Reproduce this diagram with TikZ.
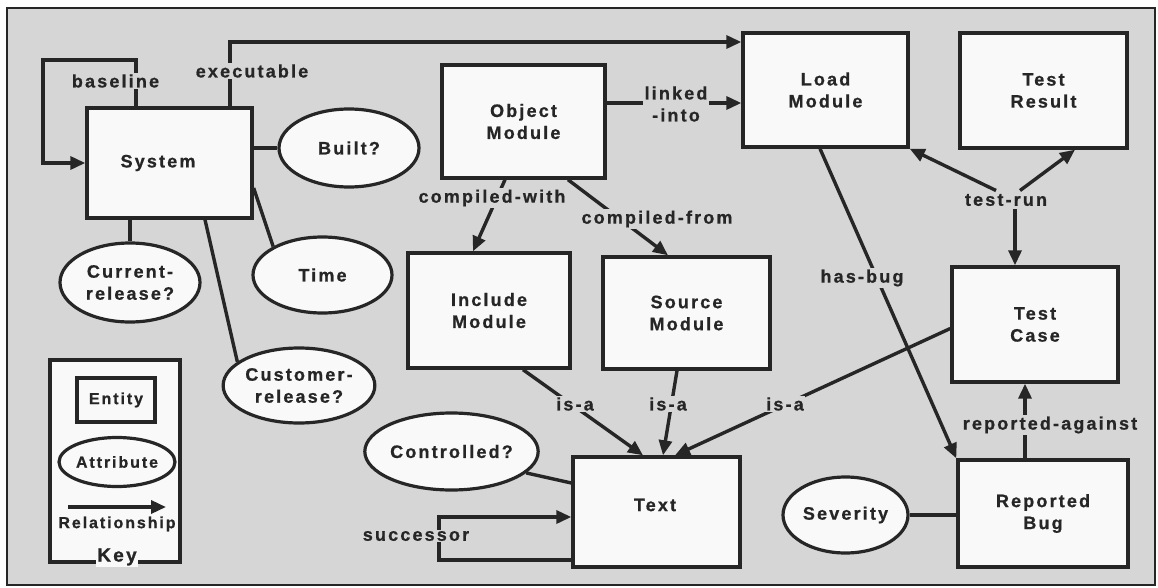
\documentclass[tikz,border=0pt]{standalone}
\usepackage{fontspec}
\setmainfont{Liberation Sans}
\newfontfamily\labfont[LetterSpace=12,BoldFeatures={FakeBold=0.8}]{Liberation Sans}
\usetikzlibrary{arrows.meta,shapes.geometric}
\definecolor{bg}{gray}{0.84}
\definecolor{boxfill}{gray}{0.975}
\begin{document}
\begin{tikzpicture}[x=1pt,y=-1pt,
  every node/.style={font=\labfont\bfseries\fontsize{18}{22}\selectfont, align=center, text=black!85},
  keyfont/.style={font=\labfont\bfseries\fontsize{16}{19}\selectfont},
  ent/.style={draw=black!85, line width=3.4pt, fill=boxfill, inner sep=0pt},
  att/.style={ellipse, draw=black!85, line width=3.2pt, fill=boxfill, inner sep=0pt},
  rel/.style={draw=black!85, line width=3.4pt, -{Triangle[length=15pt,width=13pt]}},
  con/.style={draw=black!85, line width=3.4pt},
  lab/.style={fill=bg, inner sep=1.5pt},
]
\useasboundingbox (0,0) rectangle (1158,588);
\draw[line width=2.6pt, draw=black!85, fill=bg] (7,8) rectangle (1155,585);

% entities
\node[ent, minimum width=165pt, minimum height=110pt] (sys) at (169.5,163) {};
\node (systxt) at (158,163) {System};
\node[ent, minimum width=163pt, minimum height=113pt] (om) at (523.5,121.5) {Object\\Module};
\node[ent, minimum width=165pt, minimum height=114pt] (lm) at (825.5,90) {Load\\Module};
\node[ent, minimum width=167pt, minimum height=115pt] (tr) at (1043.5,90.5) {Test\\Result};
\node[ent, minimum width=162pt, minimum height=115pt] (inc) at (489,310.5) {Include\\Module};
\node[ent, minimum width=167pt, minimum height=112pt] (src) at (686.5,313) {Source\\Module};
\node[ent, minimum width=166pt, minimum height=115pt] (tc) at (1035,324.5) {Test\\Case};
\node[ent, minimum width=170pt, minimum height=107pt] (rb) at (1043,513.5) {Reported\\Bug};
\node[ent, minimum width=167pt, minimum height=110pt] (txt) at (656.5,512) {};
\node (txtlbl) at (655,505) {Text};

% attributes
\node[att, minimum width=140pt, minimum height=78pt] (built) at (349,148) {Built?};
\node[att, minimum width=139pt, minimum height=76pt] (time) at (322.5,275) {Time};
\node[att, minimum width=140pt, minimum height=79pt] (cur) at (130,282.5) {Current-\\release?};
\node[att, minimum width=138pt, minimum height=75pt] (cust) at (299,385.5) {Customer-\\release?};
\node[att, minimum width=157pt, minimum height=77pt] (ctl) at (451.5,451.5) {Controlled?};
\node[att, minimum width=125pt, minimum height=76pt] (sev) at (845.5,515) {Severity};

% key
\node[ent, minimum width=130pt, minimum height=202pt] (key) at (115,461) {};
\node[ent, keyfont, minimum width=78pt, minimum height=44pt] (kent) at (116,400) {Entity};
\node[att, keyfont, minimum width=100pt, minimum height=49pt] (katt) at (117,462) {Attribute};
\coordinate (ka) at (68,507);
\coordinate (kb) at (166,507);
\draw[rel] (ka) -- (kb);
\node[keyfont] (krel) at (117,524) {Relationship};
\node[fill=boxfill, inner sep=1pt, font=\labfont\bfseries\fontsize{19}{22}\selectfont] (keylbl) at (117,557) {Key};

% baseline
\draw[rel] ([xshift=-33.5pt]sys.north) |- (43,60) |- (sys.west);
\node[lab] (bl) at (115.5,81) {baseline};
% executable
\draw[rel] ([xshift=60.5pt]sys.north) |- ([yshift=48pt]lm.west);
\node[lab] (ex) at (252,71) {executable};
% attributes of system
\draw[con] (built.west -| sys.east) -- (built.west);
\draw[con] ([yshift=-25pt]sys.east) -- (time.150);
\draw[con] (cur.north |- sys.south) -- (cur.north);
\draw[con] ([xshift=35.5pt]sys.south) -- (cust.159);

% linked-into
\coordinate (li) at ([yshift=18.5pt]om.east);
\draw[rel] (li) -- (li -| lm.west);
\node[lab] (lil) at (676,104) {linked\\-into};
% compiled-with / from
\draw[rel] ([xshift=-18.5pt]om.south) -- ([xshift=-16pt]inc.north);
\node[lab] (cw) at (492,198) {compiled-with};
\draw[rel] ([xshift=44.5pt]om.south) -- ([xshift=-18.5pt]src.north);
\node[lab] (cf) at (657,219) {compiled-from};

% test-run
\node (trl) at (1006,200) {test-run};
\draw[rel] ([xshift=-10pt]trl.north) -- (lm.south east);
\draw[rel] ([xshift=14pt]trl.north) -- ([xshift=31.5pt]tr.south);
\coordinate (tci) at ([xshift=-20pt]tc.north);
\draw[rel] (trl.south -| tci) -- (tci);

% has-bug
\draw[rel] ([xshift=-5.5pt]lm.south) -- (rb.north west);
\node[lab] (hb) at (862,278) {has-bug};

% reported-against
\coordinate (ra) at ([xshift=-18pt]rb.north);
\draw[rel] (ra) -- (ra |- tc.south);
\node[lab] (ral) at (1050,425) {reported-against};

% severity
\draw[con] (sev.east) -- (sev.east -| rb.west);

% is-a
\draw[rel] ([xshift=34pt]inc.south) -- ([xshift=-13.5pt]txt.north);
\node[lab] (isa1) at (575,404) {is-a};
\draw[rel] ([xshift=-9.5pt]src.south) -- ([xshift=6.5pt]txt.north);
\node[lab] (isa2) at (668,404) {is-a};
\draw[rel] ([yshift=-4pt]tc.west) -- ([xshift=18.5pt]txt.north);
\node[lab] (isa3) at (785,404) {is-a};

% controlled
\draw[con] (ctl.344) -- ([yshift=29pt]txt.west);
% successor
\draw[rel] ([yshift=-48pt]txt.west) -| (439,537) |- ([yshift=-5pt]txt.west);
\node[lab] (suc) at (416,536) {successor};
\end{tikzpicture}
\end{document}
